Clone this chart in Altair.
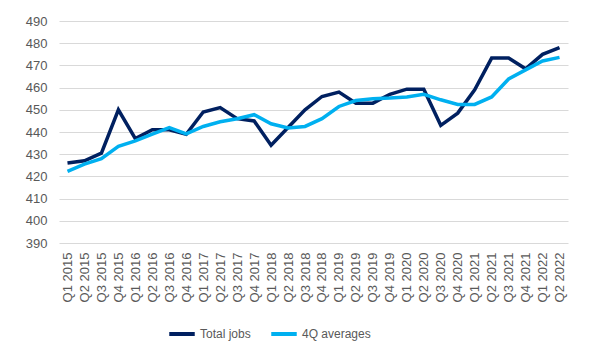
import altair as alt
import pandas as pd

quarters = [f"Q{q} {y}" for y in range(2015, 2023) for q in range(1, 5)][:30]
total_jobs = [426, 427, 430.5, 450, 437, 441, 441, 439, 449, 451, 446, 445, 434, 442, 450,
              456, 458, 453, 453, 457, 459.3, 459.3, 443, 448.5, 459, 473.3, 473.3, 468.5, 475, 478]
avg_4q = [422.3, 425.5, 428, 433.5, 436, 439, 442, 439.2, 442.5, 444.6, 446, 447.8, 443.7, 441.8, 442.5,
          446, 451.5, 454.2, 455, 455.3, 455.8, 457, 454.5, 452.4, 452.4, 455.8, 463.9, 468, 472, 473.6]

series = ["Total jobs", "4Q averages"]
rows = []
for i, q in enumerate(quarters):
    rows.append({"quarter": q, "series": series[0], "value": total_jobs[i], "order": i})
    rows.append({"quarter": q, "series": series[1], "value": avg_4q[i], "order": i})
df = pd.DataFrame(rows)

chart = alt.Chart(df).mark_line(strokeWidth=3.5, strokeCap="butt", strokeJoin="miter").encode(
    x=alt.X("quarter:N", sort=quarters, title=None,
            scale=alt.Scale(type="point", padding=0.5),
            axis=alt.Axis(labelAngle=270, labelAlign="right", labelBaseline="middle",
                          ticks=False, domain=False, grid=False, labelPadding=9,
                          labelFontSize=13, labelColor="#595959", labelFont="Liberation Sans")),
    y=alt.Y("value:Q", title=None,
            scale=alt.Scale(domain=[390, 490], nice=False, zero=False),
            axis=alt.Axis(values=list(range(390, 491, 10)), ticks=False, domain=False,
                          gridColor="#d9d9d9", gridWidth=1, labelPadding=12,
                          labelFontSize=13, labelColor="#595959", labelFont="Liberation Sans")),
    color=alt.Color("series:N", sort=series,
                    scale=alt.Scale(domain=series, range=["#002060", "#00B0F0"]),
                    legend=alt.Legend(title=None, orient="none", direction="horizontal",
                                      legendX=108, legendY=298,
                                      symbolType="stroke", symbolStrokeWidth=4, symbolSize=650,
                                      labelFontSize=12, labelColor="#595959", labelOffset=3,
                                      labelFont="Liberation Sans", columnPadding=12)),
    order="order:Q",
).properties(
    width=509, height=222,
    autosize=alt.AutoSizeParams(type="none"),
    padding={"left": 59, "top": 21, "right": 41, "bottom": 102},
).configure_view(stroke=None)

chart.save("out.html", embed_options={"renderer": "svg", "actions": False})
